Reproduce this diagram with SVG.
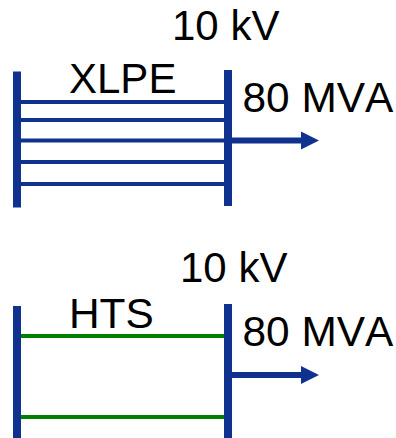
<svg xmlns="http://www.w3.org/2000/svg" width="396" height="438" viewBox="0 0 396 438">
<style>
text{font-family:"Liberation Sans",Arial,sans-serif;font-size:42px;font-kerning:none;fill:#000}
.big{font-size:42.4px}
.bus{fill:#10328f}
.x{stroke:#10328f;stroke-width:4;fill:none}
.h{stroke:#008000;stroke-width:4;fill:none}
.f{stroke:#10328f;stroke-width:6;fill:none}
</style>
<defs><polygon id="head" class="bus" points="0,-9 18,0 0,9"/></defs>
<rect width="396" height="438" fill="#fff"/>
<g id="connectors">
<path class="x" d="M21 102H224M21 120H224M21 140.500H224M21 162H224M21 184H224"/>
<path class="h" d="M21 336H224M21 417H224"/>
<path class="f" d="M232 140.500H302M232 375H302"/>
<use href="#head" x="301" y="140.500"/>
<use href="#head" x="301" y="375"/>
</g>
<g id="xlpe-left-bus"><rect class="bus" x="13" y="71.500" width="8" height="136"/></g>
<g id="xlpe-right-bus"><rect class="bus" x="224" y="70" width="8" height="136"/></g>
<g id="hts-left-bus"><rect class="bus" x="13" y="306" width="8" height="132"/></g>
<g id="hts-right-bus"><rect class="bus" x="224" y="304" width="8" height="134"/></g>
<g id="labels">
<text x="172" y="40">10 kV</text>
<text x="69" y="93">XLPE</text>
<text class="big" x="242.500" y="112">80 MVA</text>
<text x="180" y="282">10 kV</text>
<text class="big" x="69" y="328">HTS</text>
<text class="big" x="242.500" y="346">80 MVA</text>
</g>
</svg>
